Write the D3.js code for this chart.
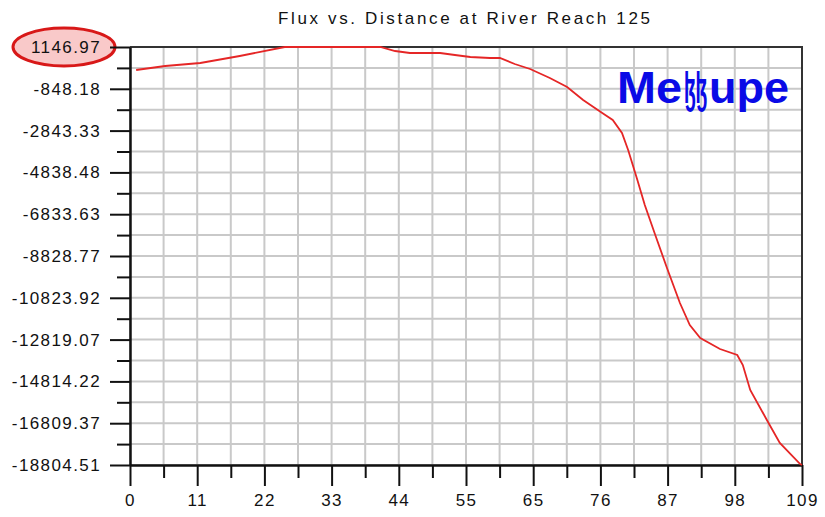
<!DOCTYPE html>
<html>
<head>
<meta charset="utf-8">
<script src="https://cdn.jsdelivr.net/npm/d3@7"></script>
<style>
  html, body { margin: 0; padding: 0; background: #ffffff; }
  svg { display: block; }
</style>
</head>
<body>
<svg id="chart" width="825" height="517"></svg>
<script>
// ---- data ----
const chartTitle = "Flux vs. Distance at River Reach 125";
const watermarkParts = ["Me", "ɮɮ", "upe"];
const xMax = 109;
const xTickLabels = ["0", "11", "22", "33", "44", "55", "65", "76", "87", "98", "109"];
const yTickLabels = ["1146.97", "-848.18", "-2843.33", "-4838.48", "-6833.63", "-8828.77",
                     "-10823.92", "-12819.07", "-14814.22", "-16809.37", "-18804.51"];
const distance = [1.0, 5.7, 11.4, 17.8, 25.1, 32.4, 40.6, 43.0, 45.4, 50.3, 52.7, 55.2, 58.4, 60.0,
                  62.4, 64.9, 68.1, 70.9, 73.5, 76.6, 78.3, 79.8, 80.8, 82.2, 83.5, 85.2, 87.1,
                  89.2, 90.8, 92.5, 95.7, 98.5, 99.4, 100.6, 103.3, 105.4, 108.7, 109];
const flux = [49, 240, 383, 717, 1147, 1147, 1147, 956, 861, 861, 765, 670, 622, 622,
              336, 97, -333, -762, -1383, -2003, -2337, -2958, -3769, -5106, -6394, -7826, -9401,
              -11072, -12122, -12742, -13267, -13554, -14031, -15224, -16656, -17754, -18760, -18804.51];

// ---- layout ----
const svg = d3.select("#chart");
const L = 130, R = 802, T = 47, B = 465;
const yVals = yTickLabels.map(Number);
const x = d3.scaleLinear().domain([0, xMax]).range([L, R]);
const y = d3.scaleLinear().domain([yVals[yVals.length - 1], yVals[0]]).range([B, T]);

const xMajor = xTickLabels.map((d, i) => xMax * i / (xTickLabels.length - 1));
const xMinor = xMajor.slice(1).map((d, i) => (d + xMajor[i]) / 2);
const yMinor = yVals.slice(1).map((d, i) => (d + yVals[i]) / 2);

const font = "'Liberation Sans', Arial, sans-serif";

// gridlines
const grid = svg.append("g").attr("class", "grid");
grid.selectAll("line.v").data(xMajor.concat(xMinor)).join("line")
  .attr("x1", d => x(d)).attr("x2", d => x(d)).attr("y1", T).attr("y2", B)
  .attr("stroke", "#c9c9c9").attr("stroke-width", 2);
grid.selectAll("line.h").data(yVals.concat(yMinor)).join("line")
  .attr("x1", L).attr("x2", R).attr("y1", d => y(d)).attr("y2", d => y(d))
  .attr("stroke", "#c9c9c9").attr("stroke-width", 2);

// frame (top and right)
svg.append("path")
  .attr("d", `M${L},${T}H${R}V${B}`)
  .attr("fill", "none").attr("stroke", "#333").attr("stroke-width", 2);

// highlight ellipse around top label
svg.append("ellipse")
  .attr("cx", 64).attr("cy", 47).attr("rx", 51).attr("ry", 19)
  .attr("fill", "#f9c9c9").attr("stroke", "#d81818").attr("stroke-width", 3);

// minor axes
svg.append("g").attr("transform", `translate(${L},0)`)
  .call(d3.axisLeft(y).tickValues(yMinor).tickSize(13).tickFormat(""))
  .call(g => g.select(".domain").remove())
  .call(g => g.selectAll(".tick line").attr("stroke", "#111").attr("stroke-width", 2));
svg.append("g").attr("transform", `translate(0,${B})`)
  .call(d3.axisBottom(x).tickValues(xMinor).tickSize(13).tickFormat(""))
  .call(g => g.select(".domain").remove())
  .call(g => g.selectAll(".tick line").attr("stroke", "#111").attr("stroke-width", 2));

// major axes
const yAxis = svg.append("g").attr("transform", `translate(${L},0)`)
  .call(d3.axisLeft(y).tickValues(yVals).tickSize(20).tickSizeOuter(0).tickPadding(9)
        .tickFormat((d, i) => yTickLabels[i]));
yAxis.select(".domain").attr("stroke", "#111").attr("stroke-width", 2.5);
yAxis.selectAll(".tick line").attr("stroke", "#111").attr("stroke-width", 2);
yAxis.selectAll(".tick text")
  .attr("font-family", font).attr("font-size", 17).attr("fill", "#111")
  .attr("letter-spacing", 1.4);

const xAxis = svg.append("g").attr("transform", `translate(0,${B})`)
  .call(d3.axisBottom(x).tickValues(xMajor).tickSize(21).tickSizeOuter(0).tickPadding(8)
        .tickFormat((d, i) => xTickLabels[i]));
xAxis.select(".domain").attr("stroke", "#111").attr("stroke-width", 2.5);
xAxis.selectAll(".tick line").attr("stroke", "#111").attr("stroke-width", 2);
xAxis.selectAll(".tick text")
  .attr("font-family", font).attr("font-size", 17).attr("fill", "#111")
  .attr("letter-spacing", 1.4);

// data line
const pts = distance.map((d, i) => [d, flux[i]]);
svg.append("path")
  .datum(pts)
  .attr("fill", "none").attr("stroke", "#e52626").attr("stroke-width", 1.8)
  .attr("d", d3.line().x(d => x(d[0])).y(d => y(d[1])));

// title
svg.append("text")
  .attr("x", 464).attr("y", 24).attr("text-anchor", "middle")
  .attr("font-family", font).attr("font-size", 17).attr("fill", "#111")
  .attr("textLength", 372).attr("lengthAdjust", "spacing")
  .text(chartTitle);

// watermark (three pieces so the middle glyphs can be narrowed)
const wmStyle = s => s.attr("font-family", font).attr("font-weight", "bold")
  .attr("font-size", 45).attr("fill", "#0a0ae6");
svg.append("text").attr("x", 617).attr("y", 103).call(wmStyle)
  .attr("textLength", 65).attr("lengthAdjust", "spacingAndGlyphs")
  .text(watermarkParts[0]);
const mid = svg.append("text").attr("x", 0).attr("y", 0).call(wmStyle)
  .text(watermarkParts[1]);
const midW = mid.node().getComputedTextLength();
mid.attr("transform", `translate(684,103) scale(${23 / midW},1)`);
svg.append("text").attr("x", 709).attr("y", 103).call(wmStyle)
  .attr("textLength", 80).attr("lengthAdjust", "spacingAndGlyphs")
  .text(watermarkParts[2]);
</script>
</body>
</html>
